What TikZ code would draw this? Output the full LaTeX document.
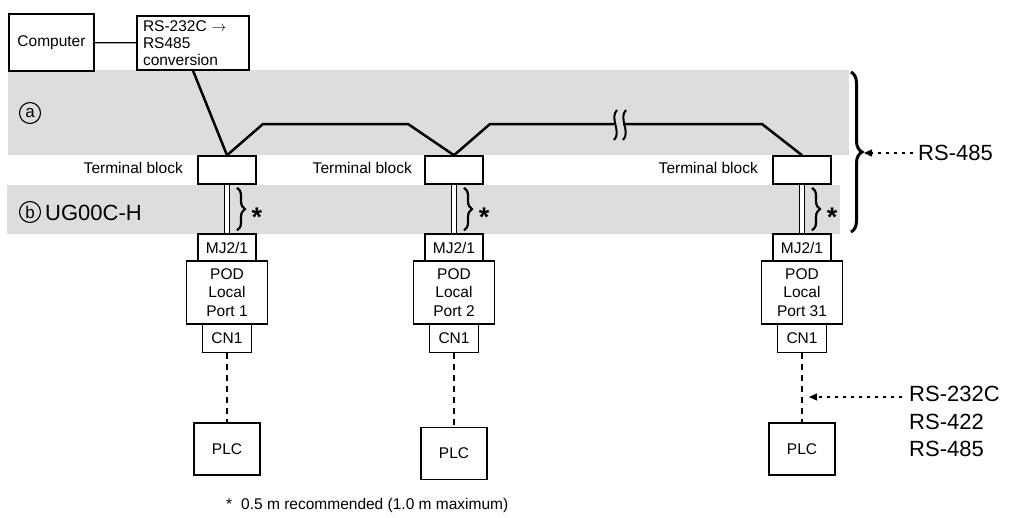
\documentclass[tikz,border=0pt]{standalone}
\usepackage{fontspec}
\setmainfont{Liberation Sans}
\usetikzlibrary{arrows.meta,decorations.pathreplacing,calc}
\newcommand\smalltxt{\fontsize{15.5}{18.5}\selectfont}
\newcommand\convtxt{\fontsize{15.5}{17}\selectfont}
\newcommand\bigtxt{\fontsize{22}{27.5}\selectfont}
\newcommand\startxt{\fontsize{27}{27}\selectfont\bfseries}
\definecolor{bandgray}{RGB}{221,221,221}
\begin{document}
\begin{tikzpicture}[x=1pt,y=-1pt,
  box/.style={draw,line width=1.2pt,fill=white,inner sep=0pt,font=\smalltxt},
  tbox/.style={box,line width=1.5pt,minimum width=58pt,minimum height=28pt},
  mjbox/.style={box,minimum width=58pt,minimum height=27pt},
  podbox/.style={box,minimum width=81pt,minimum height=63pt,align=center},
  cnbox/.style={box,minimum width=49pt,minimum height=28pt},
  plcbox/.style={box,minimum width=66pt,minimum height=52pt},
  lbl/.style={font=\smalltxt,inner sep=0pt},
  cable/.style={draw=black,double=white,double distance=4.5pt,line width=1.2pt},
  bus/.style={line width=2.5pt,line join=miter},
  dashline/.style={line width=2.4pt,dash pattern=on 6pt off 5pt},
  dotarrow/.style={line width=1.3pt,dash pattern=on 3pt off 5pt,-{Triangle[length=8pt,width=7pt]}},
  smallbrace/.style={decorate,decoration={brace,amplitude=8pt},line width=2.2pt},
  circ/.style={draw,circle,line width=1.1pt,minimum size=21pt,inner sep=0pt,font=\fontsize{17}{17}\selectfont}
]
\useasboundingbox (0,0) rectangle (1009,517);
% gray bands
\fill[bandgray] (8,70) rectangle (849,155);
\fill[bandgray] (7,185) rectangle (840,234);

% top boxes
\node[box,minimum width=85pt,minimum height=57pt] (comp) at (51.5,42.5) {Computer};
\node[box,minimum width=112pt,minimum height=54pt,align=left,text width=100pt,font=\convtxt] (conv) at (193,43) {RS-232C $\rightarrow$\\RS485\\conversion};
\draw[line width=1.2pt] (comp) -- (conv);

% circles and labels
\node[circ] (ca) at (30,113) {a};
\node[circ] (cb) at (30,212) {b};
\node[anchor=west,font=\bigtxt,inner sep=0pt] (ug) at (45,213) {UG00C-H};

% columns
\foreach \i/\c/\p/\py in {1/227/1/449, 2/454/2/453.5, 3/802/31/449}{
  \node[tbox] (tb\i) at (\c,170) {};
  \node[mjbox] (mj\i) at (\c,247.5) {MJ2/1};
  \node[podbox] (pod\i) at (\c,292.5) {POD\\Local\\Port \p};
  \node[cnbox] (cn\i) at (\c,338.5) {CN1};
  \node[plcbox] (plc\i) at (\c,\py) {PLC};
  \draw[cable] (tb\i.south) -- (mj\i.north);
  \draw[smallbrace] ($(tb\i.south)+(10,3)$) -- ($(mj\i.north)+(10,-3)$);
  \node[font=\startxt,inner sep=0pt] (star\i) at ($(tb\i.south)+(30,32)$) {*};
  \draw[dashline] (cn\i.south) -- (plc\i.north);
}
\node[lbl,anchor=east] (tl1) at (183,168) {Terminal block};
\node[lbl,anchor=east] (tl2) at (412,168) {Terminal block};
\node[lbl,anchor=east] (tl3) at (758,168) {Terminal block};

% bus line
\coordinate (b1) at (263,124);
\coordinate (b2) at (408,124);
\coordinate (b3) at (490,124);
\coordinate (b4) at (614,124);
\coordinate (b5) at (623,124);
\coordinate (b6) at (762,124);
\draw[bus] (conv.south) -- (tb1.north) -- (b1) -- (b2) -- (tb2.north) -- (b3) -- (b4);
\draw[bus] (b5) -- (b6) -- (tb3.north);
% break mark
\draw[line width=2pt] (617,110) .. controls (609,118) and (622,132) .. (614,140);
\draw[line width=2pt] (626,110) .. controls (618,118) and (631,132) .. (623,140);

% big brace
\draw[decorate,decoration={brace,amplitude=11pt},line width=3pt] (851,72) -- (851,232);
\coordinate (btip) at (864,153);
\node[anchor=west,font=\bigtxt,inner sep=0pt] (rs485) at (918,153) {RS-485};
\draw[dotarrow] (rs485.west) ++(-5,0) coordinate (r485s) -- (btip);

% lower serial label
\node[anchor=north west,font=\bigtxt,inner sep=0pt,align=left] (serial) at (909,386) {RS-232C\\RS-422\\RS-485};
\coordinate (s232) at (902,397);
\coordinate (dl3) at (809,397);
\draw[dotarrow] (s232) -- (dl3);

% footnote
\node[lbl,anchor=west] (foot) at (226,505) {*\hspace{9pt}0.5 m recommended (1.0 m maximum)};
\end{tikzpicture}
\end{document}
